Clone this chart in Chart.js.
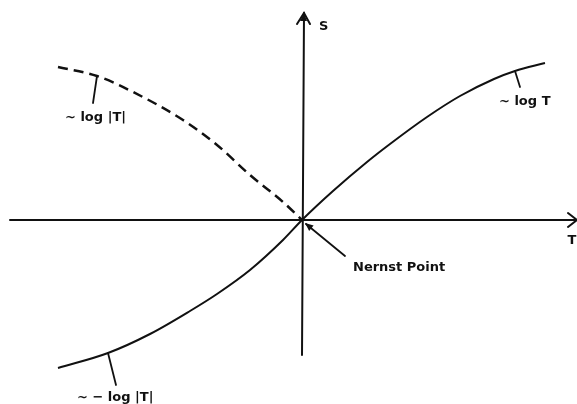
<!DOCTYPE html>
<html>
<head>
<meta charset="utf-8">
<script src="https://cdn.jsdelivr.net/npm/chart.js@4/dist/chart.umd.min.js"></script>
<style>
html,body{margin:0;padding:0;background:#fff;}
#c{display:block;}
</style>
</head>
<body>
<canvas id="c" width="577" height="404"></canvas>
<script>
// Solid curve S(T) through the Nernst point
const solidT = [-2.44,-1.94,-1.52,-1.12,-0.85,-0.52,-0.19,0,0.31,0.65,0.88,1.25,1.58,1.92,2.13,2.43];
const solidS = [-1.48,-1.33,-1.14,-0.91,-0.74,-0.50,-0.20,0,0.29,0.58,0.76,1.03,1.24,1.41,1.49,1.57];
// Dashed curve (negative T branch, ~ log|T|)
const dashedT = [-2.44,-2.05,-1.69,-1.19,-0.85,-0.52,-0.19,0];
const dashedS = [1.53,1.44,1.28,1.00,0.75,0.45,0.18,0];
// Axis titles
const axisTitles = {x: 'T', y: 'S'};
// Curve annotations
const curveLabels = ['~ log T', '~ log |T|', '~ − log |T|'];
const pointLabel = 'Nernst Point';

const FONT = 'bold 13px "DejaVu Sans", sans-serif';

const overlay = {
  id: 'overlay',
  afterDatasetsDraw(chart) {
    const ctx = chart.ctx;
    const xs = chart.scales.x, ys = chart.scales.y;
    const X = v => xs.getPixelForValue(v);
    const Y = v => ys.getPixelForValue(v);
    ctx.save();
    ctx.strokeStyle = '#111';
    ctx.fillStyle = '#111';
    ctx.lineCap = 'round';
    // x axis
    ctx.lineWidth = 2;
    ctx.beginPath();
    ctx.moveTo(X(-2.92), Y(0)); ctx.lineTo(X(2.75), Y(0));
    ctx.stroke();
    // x arrow (open chevron)
    ctx.beginPath();
    ctx.moveTo(X(2.66), Y(0.07)); ctx.lineTo(X(2.75), Y(0)); ctx.lineTo(X(2.66), Y(-0.07));
    ctx.stroke();
    // y axis
    ctx.beginPath();
    ctx.moveTo(X(0), Y(-1.35)); ctx.lineTo(X(0.02), Y(2.07));
    ctx.stroke();
    // y arrow
    ctx.beginPath();
    ctx.moveTo(X(-0.05), Y(1.96)); ctx.lineTo(X(0.02), Y(2.07)); ctx.lineTo(X(0.08), Y(1.96));
    ctx.stroke();
    ctx.beginPath();
    ctx.moveTo(X(-0.02), Y(1.99)); ctx.lineTo(X(0.02), Y(2.07)); ctx.lineTo(X(0.05), Y(1.99)); ctx.closePath();
    ctx.fill();

    // leader lines
    ctx.lineWidth = 1.8;
    const leaders = [[2.13,1.49,2.18,1.33],[-2.05,1.44,-2.09,1.17],[-1.94,-1.33,-1.86,-1.65]];
    leaders.forEach(l => { ctx.beginPath(); ctx.moveTo(X(l[0]),Y(l[1])); ctx.lineTo(X(l[2]),Y(l[3])); ctx.stroke(); });

    // Nernst arrow
    ctx.beginPath();
    ctx.moveTo(X(0.43), Y(-0.36)); ctx.lineTo(X(0.04), Y(-0.04));
    ctx.stroke();
    const ax = X(0.03), ay = Y(-0.03);
    const ang = Math.atan2(Y(-0.36) - ay, X(0.43) - ax);
    ctx.beginPath();
    ctx.moveTo(ax, ay);
    ctx.lineTo(ax + 9*Math.cos(ang+0.4), ay + 9*Math.sin(ang+0.4));
    ctx.lineTo(ax + 9*Math.cos(ang-0.4), ay + 9*Math.sin(ang-0.4));
    ctx.closePath(); ctx.fill();

    // text
    ctx.font = FONT;
    ctx.textBaseline = 'middle';
    ctx.textAlign = 'left';
    ctx.fillText(axisTitles.y, X(0.17), Y(1.93));
    ctx.textAlign = 'center';
    ctx.fillText(axisTitles.x, X(2.70), Y(-0.21));
    ctx.textAlign = 'left';
    ctx.fillText(curveLabels[0], X(1.97), Y(1.18));
    ctx.fillText(curveLabels[1], X(-2.37), Y(1.02));
    ctx.fillText(curveLabels[2], X(-2.25), Y(-1.78));
    ctx.fillText(pointLabel, X(0.51), Y(-0.48));
    ctx.restore();
  }
};

new Chart(document.getElementById('c'), {
  type: 'scatter',
  data: {
    datasets: [
      {
        data: solidT.map((t,i) => ({x: t, y: solidS[i]})),
        showLine: true, borderColor: '#111', borderWidth: 2,
        pointRadius: 0, cubicInterpolationMode: 'monotone', fill: false
      },
      {
        data: dashedT.map((t,i) => ({x: t, y: dashedS[i]})),
        showLine: true, borderColor: '#111', borderWidth: 2.5, borderDash: [10,6],
        pointRadius: 0, cubicInterpolationMode: 'monotone', fill: false
      }
    ]
  },
  options: {
    responsive: false,
    animation: false,
    devicePixelRatio: 1,
    layout: {padding: 0},
    plugins: {legend: {display: false}, tooltip: {enabled: false}},
    scales: {
      x: {type: 'linear', min: -3.02, max: 2.75, display: false},
      y: {type: 'linear', min: -1.84, max: 2.20, display: false}
    }
  },
  plugins: [overlay]
});
</script>
</body>
</html>
